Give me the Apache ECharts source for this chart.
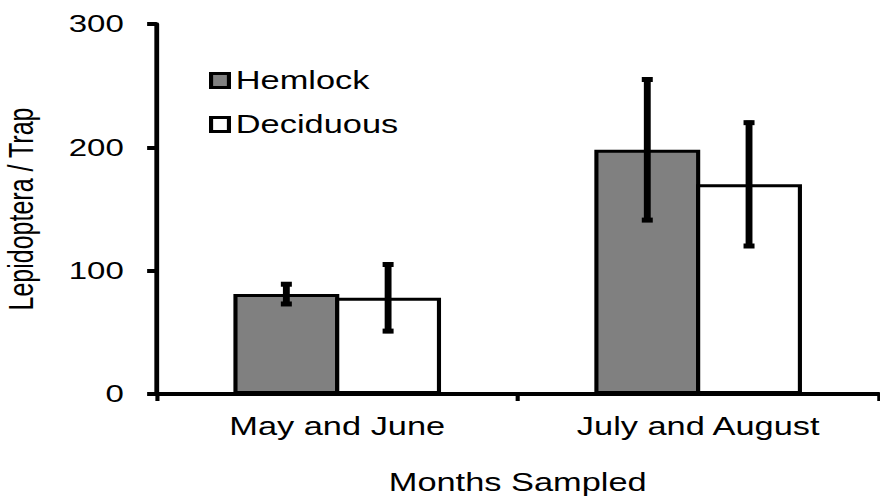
<!DOCTYPE html>
<html>
<head>
<meta charset="utf-8">
<script src="https://cdn.jsdelivr.net/npm/echarts@6/dist/echarts.min.js"></script>
<style>
  html, body { margin: 0; padding: 0; background: #fff; overflow: hidden; }
  #wrap { width: 880px; height: 497px; overflow: hidden; }
  /* the reference image is stretched horizontally; reproduce by scaling the chart box */
  #c { width: 640px; height: 497px; transform: scaleX(1.375); transform-origin: 0 0; }
</style>
</head>
<body>
<div id="wrap"><div id="c"></div></div>
<script>
const categories = ['May and June', 'July and August'];
const seriesNames = ['Hemlock', 'Deciduous'];
const hemlockMean = [81, 198];
const hemlockErr = [8, 57];
const deciduousMean = [78, 170];
const deciduousErr = [27, 50];
const yTicks = [0, 100, 200, 300];

const BAR_W = 77;
const BAR_GAP_PX = -3;
const FONT = "'Liberation Sans', Arial, Helvetica, sans-serif";

function errSeries(name, means, errs, offset) {
  return {
    name: name + ' error',
    type: 'custom',
    z: 10,
    silent: true,
    data: means.map((m, i) => [i, m, errs[i]]),
    renderItem: function (params, api) {
      const c = api.value(0), v = api.value(1), e = api.value(2);
      const top = api.coord([c, v + e]);
      const bot = api.coord([c, v - e]);
      const x = top[0] + offset;
      const style = { stroke: '#000', lineWidth: 5, lineCap: 'butt' };
      return {
        type: 'group',
        children: [
          { type: 'line', shape: { x1: x, y1: top[1] - 2, x2: x, y2: bot[1] + 2 }, style: style },
          { type: 'line', shape: { x1: x - 4, y1: top[1], x2: x + 4, y2: top[1] }, style: style },
          { type: 'line', shape: { x1: x - 4, y1: bot[1], x2: x + 4, y2: bot[1] }, style: style }
        ]
      };
    }
  };
}

const half = (BAR_W + BAR_GAP_PX) / 2;
const chart = echarts.init(document.getElementById('c'), null, { renderer: 'svg' });
chart.setOption({
  animation: false,
  backgroundColor: '#fff',
  textStyle: { fontFamily: FONT, color: '#000' },
  grid: { left: 114, right: 1, top: 24, bottom: 103, containLabel: false, outerBoundsMode: 'none' },
  legend: {
    orient: 'vertical',
    left: 152,
    top: 68,
    padding: 0,
    data: seriesNames,
    icon: 'rect',
    itemWidth: 13,
    itemHeight: 14,
    itemGap: 19,
    itemStyle: { borderColor: '#000', borderWidth: 3 },
    textStyle: { fontSize: 25, color: '#000', fontFamily: FONT },
    selectedMode: false
  },
  xAxis: {
    type: 'category',
    data: categories,
    name: 'Months Sampled',
    nameLocation: 'middle',
    nameGap: 76,
    nameTextStyle: { fontSize: 25, color: '#000', fontFamily: FONT },
    axisLine: { show: true, lineStyle: { color: '#000', width: 4 } },
    axisTick: { show: true, length: 7, lineStyle: { color: '#000', width: 3 } },
    axisLabel: { fontSize: 25, color: '#000', margin: 20, fontFamily: FONT },
    splitLine: { show: false }
  },
  yAxis: {
    type: 'value',
    min: yTicks[0],
    max: yTicks[yTicks.length - 1],
    interval: yTicks[1] - yTicks[0],
    name: 'Lepidoptera / Trap',
    nameLocation: 'middle',
    nameGap: 86,
    nameTextStyle: { fontSize: 25, color: '#000', fontFamily: FONT },
    axisLine: { show: true, lineStyle: { color: '#000', width: 3.5 } },
    axisTick: { show: true, length: 7, lineStyle: { color: '#000', width: 4 } },
    axisLabel: { fontSize: 24, color: '#000', margin: 24, fontFamily: FONT },
    splitLine: { show: false }
  },
  series: [
    {
      name: seriesNames[0],
      type: 'bar',
      data: hemlockMean,
      barWidth: BAR_W,
      barGap: (BAR_GAP_PX / BAR_W * 100) + '%',
      itemStyle: { color: '#808080', borderColor: '#000', borderWidth: 3 }
    },
    {
      name: seriesNames[1],
      type: 'bar',
      data: deciduousMean,
      barWidth: BAR_W,
      barGap: (BAR_GAP_PX / BAR_W * 100) + '%',
      itemStyle: { color: '#ffffff', borderColor: '#000', borderWidth: 3 }
    },
    errSeries(seriesNames[0], hemlockMean, hemlockErr, -half),
    errSeries(seriesNames[1], deciduousMean, deciduousErr, half)
  ]
});
</script>
</body>
</html>
